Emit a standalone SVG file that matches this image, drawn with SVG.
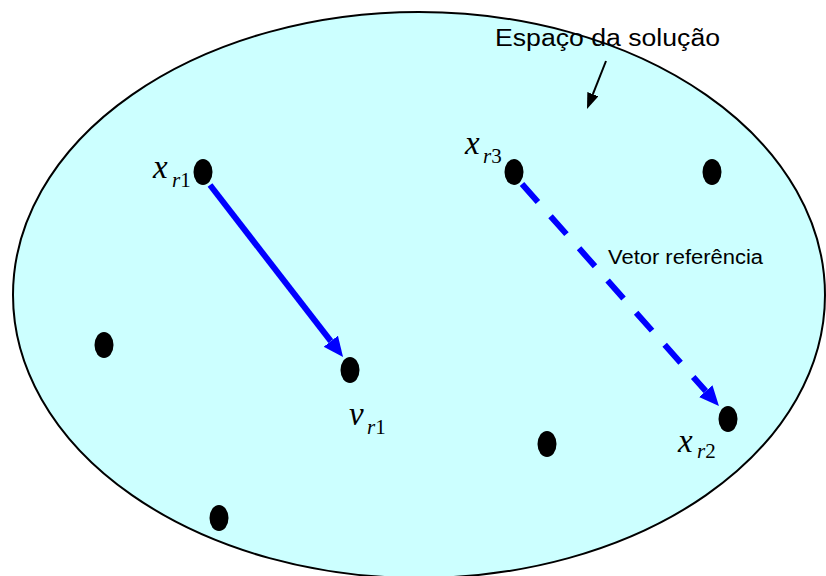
<svg xmlns="http://www.w3.org/2000/svg" width="826" height="576" viewBox="0 0 826 576">
<style>
.dot{fill:#000}
.m{font-family:"Liberation Serif","Times New Roman",serif;font-style:italic;fill:#000}
.big{font-size:33px}
.sub{font-size:21px}
.up{font-style:normal}
.lbl{font-family:"Liberation Sans",Arial,sans-serif;fill:#000}
.blue{stroke:#0000FF;stroke-width:6;fill:none}
</style>
<defs>
<marker id="ahBlue" markerUnits="userSpaceOnUse" markerWidth="22" markerHeight="20" refX="0" refY="9" orient="auto" viewBox="0 0 22 20">
<path d="M0,0 L20,9 L0,18 z" fill="#0000FF"/>
</marker>
<marker id="ahBlack" markerUnits="userSpaceOnUse" markerWidth="18" markerHeight="14" refX="0" refY="6" orient="auto" viewBox="0 0 18 14">
<path d="M0,0 L16,6 L0,12 z" fill="#000"/>
</marker>
</defs>
<g id="space">
<ellipse cx="419" cy="295" rx="406" ry="283" fill="#CCFFFF" stroke="#000" stroke-width="2"/>
</g>
<g id="connectors">
<line x1="210" y1="185" x2="330.8" y2="341.2" class="blue" marker-end="url(#ahBlue)"/>
<line x1="522" y1="184" x2="705.7" y2="391.1" class="blue" stroke-dasharray="24 19" marker-end="url(#ahBlue)"/>
<line x1="606" y1="61" x2="592.9" y2="94.1" stroke="#000" stroke-width="2" marker-end="url(#ahBlack)"/>
</g>
<g id="n_xr1">
<ellipse class="dot" cx="203" cy="172" rx="9.5" ry="13"/>
<text class="m big" x="153" y="178">x</text><text class="m sub" x="172" y="187">r<tspan class="up">1</tspan></text>
</g>
<g id="n_xr3">
<ellipse class="dot" cx="514" cy="172" rx="9.5" ry="13"/>
<text class="m big" x="465" y="154">x</text><text class="m sub" x="483" y="163">r<tspan class="up">3</tspan></text>
</g>
<g id="n_tr"><ellipse class="dot" cx="712" cy="172" rx="9.5" ry="13"/></g>
<g id="n_l"><ellipse class="dot" cx="104" cy="345" rx="9.5" ry="13"/></g>
<g id="n_vr1">
<ellipse class="dot" cx="350" cy="370" rx="9.5" ry="13"/>
<text class="m big" x="349" y="425">v</text><text class="m sub" x="367" y="434">r<tspan class="up">1</tspan></text>
</g>
<g id="n_m"><ellipse class="dot" cx="547" cy="444" rx="9.5" ry="13"/></g>
<g id="n_xr2">
<ellipse class="dot" cx="728" cy="419" rx="9.5" ry="13"/>
<text class="m big" x="678" y="452">x</text><text class="m sub" x="697" y="458">r<tspan class="up">2</tspan></text>
</g>
<g id="n_b"><ellipse class="dot" cx="219" cy="518" rx="9.5" ry="13"/></g>
<g id="labels">
<text class="lbl" x="495" y="46" font-size="23" textLength="225" lengthAdjust="spacingAndGlyphs">Espaço da solução</text>
<text class="lbl" x="608" y="264" font-size="20" textLength="155" lengthAdjust="spacingAndGlyphs">Vetor referência</text>
</g>
</svg>
